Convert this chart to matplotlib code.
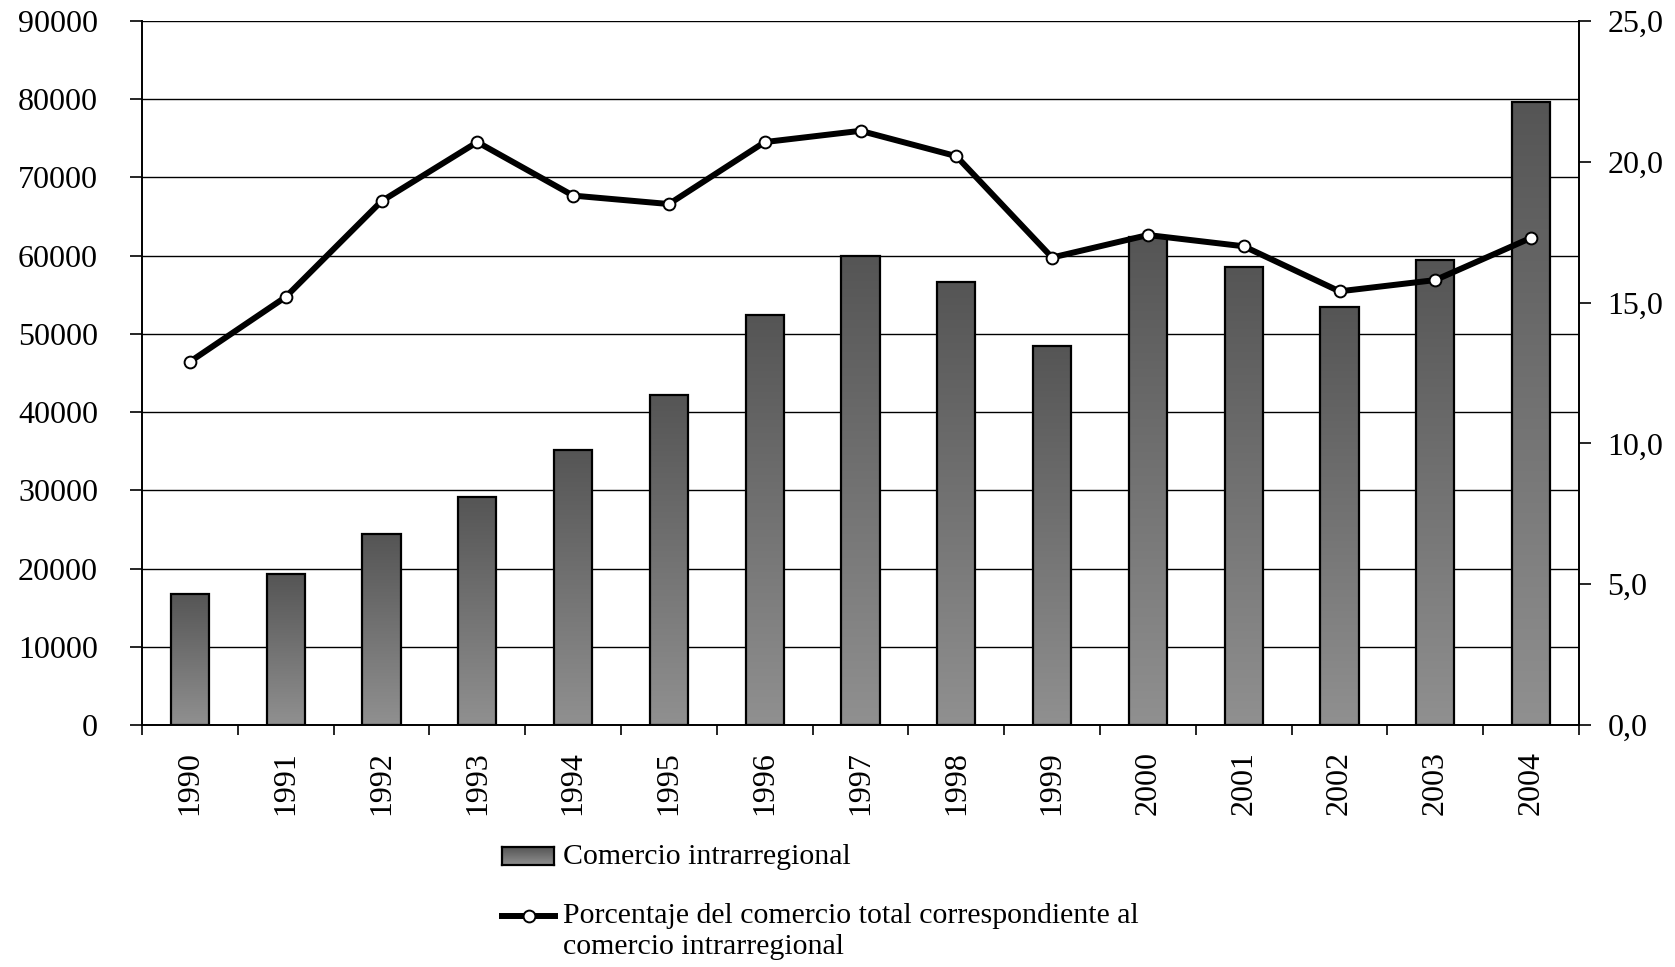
import numpy as np
import matplotlib.pyplot as plt
from matplotlib.colors import LinearSegmentedColormap
from matplotlib.lines import Line2D
from matplotlib.ticker import FuncFormatter

plt.rcParams['font.family'] = ['Liberation Serif', 'DejaVu Serif']

years = ['1990', '1991', '1992', '1993', '1994', '1995', '1996', '1997',
         '1998', '1999', '2000', '2001', '2002', '2003', '2004']
comercio = [16800, 19300, 24400, 29200, 35200, 42200, 52400, 59900,
            56600, 48500, 62400, 58600, 53400, 59400, 79600]
porcentaje = [12.9, 15.2, 18.6, 20.7, 18.8, 18.5, 20.7, 21.1,
              20.2, 16.6, 17.4, 17.0, 15.4, 15.8, 17.3]

W, H = 1675, 967
fig = plt.figure(figsize=(W / 100, H / 100), dpi=100)
ax = fig.add_axes([142 / W, 1 - 725 / H, (1579 - 142) / W, (725 - 21) / H])

grad_cmap = LinearSegmentedColormap.from_list('barras', ['#909090', '#555555'])
grad = np.linspace(0, 1, 256).reshape(-1, 1)

x = np.arange(len(years))
bw = 0.4
ax.bar(x, comercio, width=bw, facecolor='none', edgecolor='black',
       linewidth=1.6, zorder=3)
for xi, v in zip(x, comercio):
    ax.imshow(grad, extent=[xi - bw / 2, xi + bw / 2, 0, v], origin='lower',
              aspect='auto', cmap=grad_cmap, zorder=2, interpolation='bilinear')

ax.set_xlim(-0.5, len(years) - 0.5)
ax.set_ylim(0, 90000)
ax.set_yticks(range(0, 90001, 10000))
ax.yaxis.grid(True, color='black', linewidth=1.0)
ax.set_axisbelow(True)

ax.set_xticks(np.arange(-0.5, len(years), 1))
ax.set_xticklabels([])
ax.set_xticks(x, minor=True)
ax.set_xticklabels(years, minor=True, rotation=90)
ax.tick_params(axis='x', which='major', direction='out', length=7.2, width=1.2)
ax.tick_params(axis='x', which='minor', length=0, pad=19, labelsize=23)
ax.tick_params(axis='y', direction='out', length=8.6, width=1.2, pad=23,
               labelsize=23)

for s in ['top', 'right']:
    ax.spines[s].set_visible(False)
for s in ['left', 'bottom']:
    ax.spines[s].set_linewidth(1.4)

ax2 = ax.twinx()
ax2.plot(x, porcentaje, color='black', linewidth=4.3, marker='o',
         markersize=8.5, markerfacecolor='white', markeredgecolor='black',
         markeredgewidth=1.4, zorder=5)
ax2.set_ylim(0, 25)
ax2.set_yticks(range(0, 26, 5))
ax2.yaxis.set_major_formatter(FuncFormatter(lambda v, p: f'{v:.1f}'.replace('.', ',')))
ax2.tick_params(axis='y', direction='out', length=8.6, width=1.2, pad=12,
                labelsize=23)
for s in ['top', 'left', 'bottom']:
    ax2.spines[s].set_visible(False)
ax2.spines['right'].set_linewidth(1.4)

# leyenda
lax = fig.add_axes([502 / W, 1 - 865 / H, 52 / W, 18 / H])
lax.imshow(grad, origin='lower', aspect='auto', cmap=grad_cmap,
           extent=[0, 1, 0, 1])
lax.set_xticks([])
lax.set_yticks([])
for s in lax.spines.values():
    s.set_linewidth(1.6)
fig.text(563 / W, 1 - 857 / H, 'Comercio intrarregional', va='center',
         ha='left', fontsize=21.5)

ly = 1 - 916 / H
fig.add_artist(Line2D([502 / W, 555 / W], [ly, ly], transform=fig.transFigure,
                      color='black', linewidth=4.3))
fig.add_artist(Line2D([528.5 / W], [ly], transform=fig.transFigure,
                      marker='o', markersize=8.5, markerfacecolor='white',
                      markeredgecolor='black', markeredgewidth=1.4))
fig.text(563 / W, ly, 'Porcentaje del comercio total correspondiente al',
         va='center', ha='left', fontsize=21.5)
fig.text(563 / W, 1 - 947 / H, 'comercio intrarregional', va='center',
         ha='left', fontsize=21.5)

fig.savefig('out.png', dpi=100)
